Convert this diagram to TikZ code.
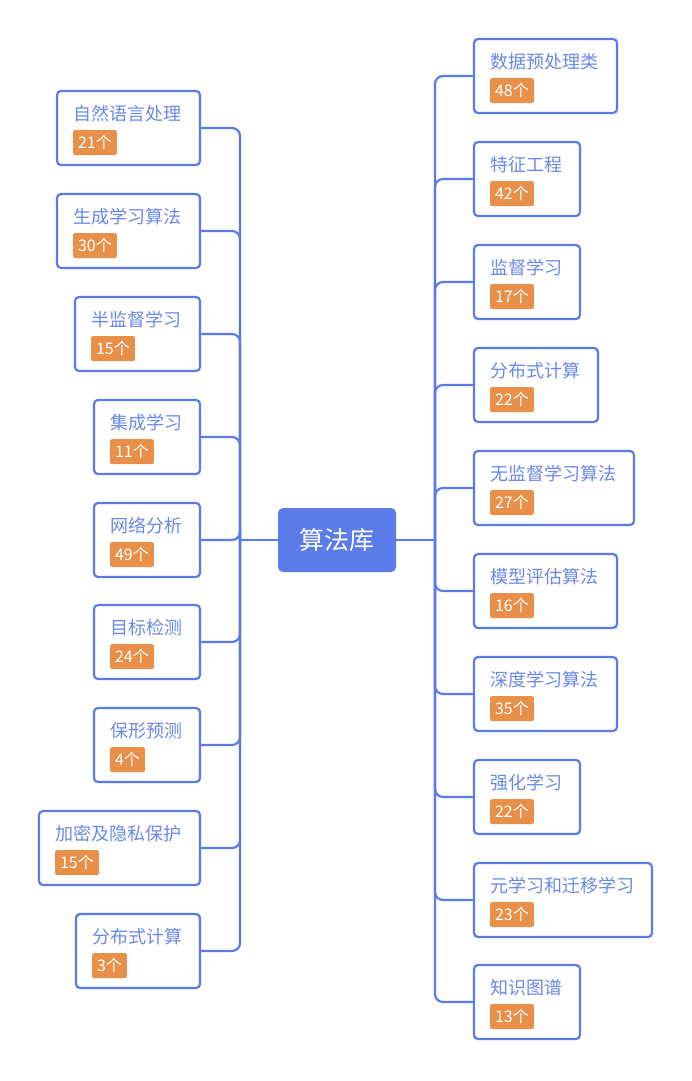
\documentclass[tikz,border=0pt]{standalone}
\usepackage{fontspec}
\setmainfont{Noto Sans CJK SC}
\definecolor{mblue}{HTML}{5B7BE8}
\definecolor{tblue}{HTML}{6A88EA}
\definecolor{morange}{HTML}{E8904A}
\tikzset{
  conn/.style={draw=mblue, line width=2.2pt, rounded corners=8pt},
  mbox/.style={draw=mblue, line width=2.2pt, rounded corners=4pt, fill=white, inner sep=0pt},
  mtitle/.style={inner sep=0pt, text=tblue, font=\fontsize{18pt}{20pt}\selectfont},
  mbadge/.style={fill=morange, rounded corners=2pt, text=white, inner xsep=5pt, inner ysep=0pt,
     minimum height=25pt, font=\fontsize{16pt}{18pt}\selectfont},
  center/.style={fill=mblue, rounded corners=5pt, text=white, minimum width=118pt, minimum height=64pt,
     font=\fontsize{25pt}{28pt}\selectfont, inner sep=0pt}
}
\newcommand\mmnode[6]{%
  \pgfmathsetmacro\mmw{#3-#2}%
  \pgfmathsetmacro\mmx{(#2+#3)/2}%
  \node[mbox, minimum width=\mmw pt, minimum height=74pt] (#1) at (\mmx,#4) {};
  \node[mtitle, anchor=west] (#1t) at ([xshift=17pt,yshift=-24pt]#1.north west) {#5};
  \node[mbadge, anchor=north west] (#1b) at ([xshift=17pt,yshift=-40pt]#1.north west) {#6};
}
\begin{document}
\begin{tikzpicture}[x=1pt,y=-1pt]
\useasboundingbox (0,0) rectangle (692,1081);
\coordinate (lj) at (240,540);
\coordinate (rj) at (435,540);
% left nodes
\mmnode{l1}{57}{200}{128}{自然语言处理}{21个}
\mmnode{l2}{57}{200}{231}{生成学习算法}{30个}
\mmnode{l3}{75}{200}{334}{半监督学习}{15个}
\mmnode{l4}{94}{200}{437}{集成学习}{11个}
\mmnode{l5}{94}{200}{540}{网络分析}{49个}
\mmnode{l6}{94}{200}{642}{目标检测}{24个}
\mmnode{l7}{94}{200}{745}{保形预测}{4个}
\mmnode{l8}{39}{200}{848}{加密及隐私保护}{15个}
\mmnode{l9}{76}{200}{951}{分布式计算}{3个}
% right nodes
\mmnode{r1}{474}{617}{76}{数据预处理类}{48个}
\mmnode{r2}{474}{580}{179}{特征工程}{42个}
\mmnode{r3}{474}{580}{282}{监督学习}{17个}
\mmnode{r4}{474}{598}{385}{分布式计算}{22个}
\mmnode{r5}{474}{634}{488}{无监督学习算法}{27个}
\mmnode{r6}{474}{617}{591}{模型评估算法}{16个}
\mmnode{r7}{474}{617}{694}{深度学习算法}{35个}
\mmnode{r8}{474}{580}{797}{强化学习}{22个}
\mmnode{r9}{474}{652}{900}{元学习和迁移学习}{23个}
\mmnode{r10}{474}{580}{1002}{知识图谱}{13个}
% center
\node[center] (c) at (337,540) {算法库};
% connectors
\draw[conn] (c.west) -- (lj);
\draw[conn] (c.east) -- (rj);
\foreach \i in {1,...,9} {\draw[conn] (lj) |- (l\i.east);}
\foreach \i in {1,...,10} {\draw[conn] (rj) |- (r\i.west);}
\end{tikzpicture}
\end{document}
